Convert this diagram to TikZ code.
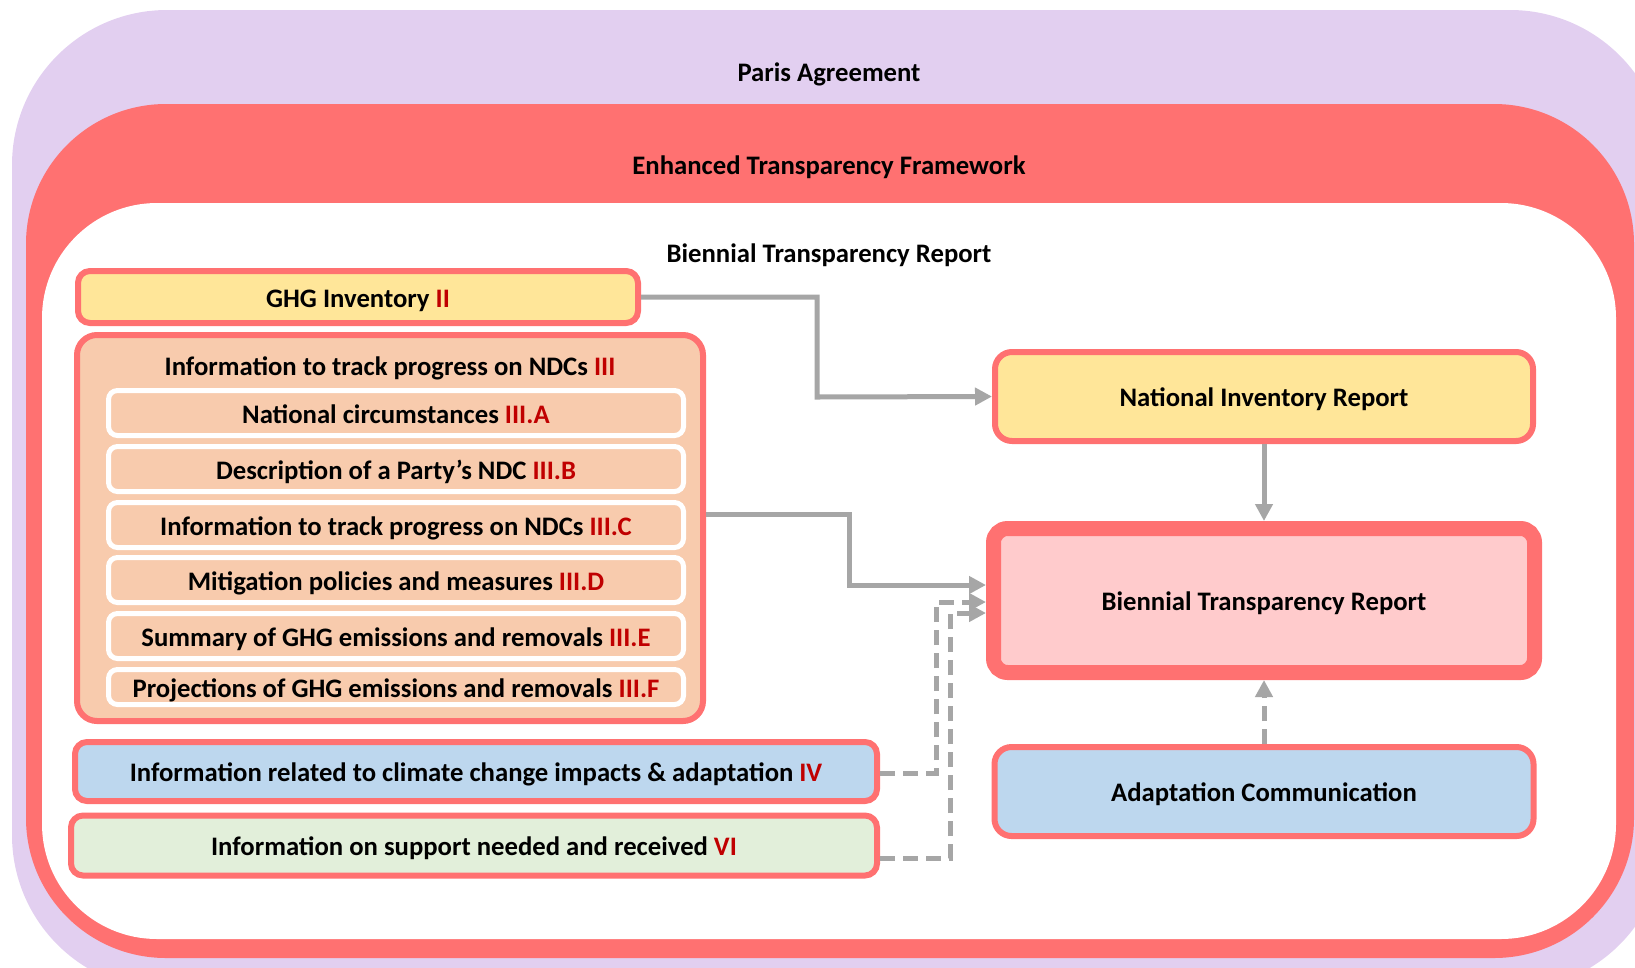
\documentclass[tikz,border=0pt]{standalone}
\usepackage{fontspec}
\setmainfont{Carlito}
\usetikzlibrary{arrows.meta}
\definecolor{parisbg}{HTML}{E2CFF0}
\definecolor{etfred}{HTML}{FF7171}
\definecolor{ghgfill}{HTML}{FFE699}
\definecolor{ndcfill}{HTML}{F8CBAD}
\definecolor{adaptfill}{HTML}{BDD7EE}
\definecolor{supportfill}{HTML}{E2EFDA}
\definecolor{btrfill}{HTML}{FFCBCC}
\definecolor{conngray}{HTML}{A6A6A6}
\definecolor{secred}{HTML}{C00000}
\newcommand{\secref}[1]{\textcolor{secred}{#1}}

\begin{document}
\begin{tikzpicture}[x=1pt,y=-1pt,
  every node/.style={font=\fontsize{26.7}{32}\selectfont\bfseries, text=black, inner sep=0pt,
    text height=20pt, text depth=0pt},
  redbox/.style={draw=etfred, line width=6pt, rounded corners=12pt},
  subbox/.style={draw=white, fill=ndcfill, line width=5pt, rounded corners=9pt,
    minimum width=575pt, minimum height=45pt},
  conn/.style={draw=conngray, line width=5pt, -{Triangle[length=17pt,width=17pt]}},
  dconn/.style={conn, dash pattern=on 15pt off 8pt},
]
\useasboundingbox (0,0) rectangle (1635,967);
\clip (0,0) rectangle (1635,967);

% nested frames: Paris Agreement, ETF, BTR area
\fill[parisbg, rounded corners=155pt] (12,10) rectangle (1665,990);
\fill[etfred, rounded corners=140pt] (26,104) rectangle (1634,958);
\fill[white, rounded corners=115pt] (42,203) rectangle (1616,939);

\node (paris) at (829,71.8) {Paris Agreement};
\node (etf) at (829,164.2) {Enhanced Transparency Framework};
\node (btrtitle) at (829,252.2) {Biennial Transparency Report};

% left column: BTR chapters
\node[redbox, fill=ghgfill, minimum width=560pt, minimum height=52pt] (ghg) at (358,297)
  {GHG Inventory \secref{II}};

\node[redbox, fill=ndcfill, rounded corners=20pt, minimum width=626pt, minimum height=386pt] (ndc) at (390,528) {};
\node (ndctitle) at (390,365) {Information to track progress on NDCs \secref{III}};
\node[subbox] (nc) at (396,413) {National circumstances \secref{III.A}};
\node[subbox] (pndc) at (396,469) {Description of a Party’s NDC \secref{III.B}};
\node[subbox] (track) at (396,525) {Information to track progress on NDCs \secref{III.C}};
\node[subbox] (mitig) at (396,580) {Mitigation policies and measures \secref{III.D}};
\node[subbox] (summ) at (396,636) {Summary of GHG emissions and removals \secref{III.E}};
\node[subbox, minimum height=35pt] (proj) at (396,687) {Projections of GHG emissions and removals \secref{III.F}};

\node[redbox, fill=adaptfill, minimum width=802pt, minimum height=59pt] (impacts) at (476,771.5)
  {Information related to climate change impacts \& adaptation \secref{IV}};
\node[redbox, fill=supportfill, minimum width=806pt, minimum height=60pt] (support) at (474,845.5)
  {Information on support needed and received \secref{VI}};

% right column: reports
\node[redbox, fill=ghgfill, rounded corners=17pt, minimum width=538pt, minimum height=89pt] (nir) at (1264,396.5)
  {National Inventory Report};
\node[draw=etfred, fill=btrfill, line width=15pt, rounded corners=14pt, minimum width=541pt, minimum height=144pt] (btr) at (1264,600.5)
  {Biennial Transparency Report};
\node[redbox, fill=adaptfill, rounded corners=17pt, minimum width=539pt, minimum height=89pt] (ac) at (1264,791.5)
  {Adaptation Communication};

% connectors
\draw[conn] (ghg.east) -| (817,397) -- (nir.west);
\draw[conn] ([yshift=14pt]ndc.east) -| (849,585) -- ([yshift=15.5pt]btr.west);
\draw[dconn] ([yshift=-1.5pt]impacts.east) -| (936,602) -- ([yshift=-1.5pt]btr.west);
\draw[dconn] ([yshift=-12.5pt]support.east) -| (950,613) -- ([yshift=-12.5pt]btr.west);
\draw[conn] (nir.south) -- (btr.north);
\draw[dconn] (ac.north) -- (btr.south);
\end{tikzpicture}
\end{document}
